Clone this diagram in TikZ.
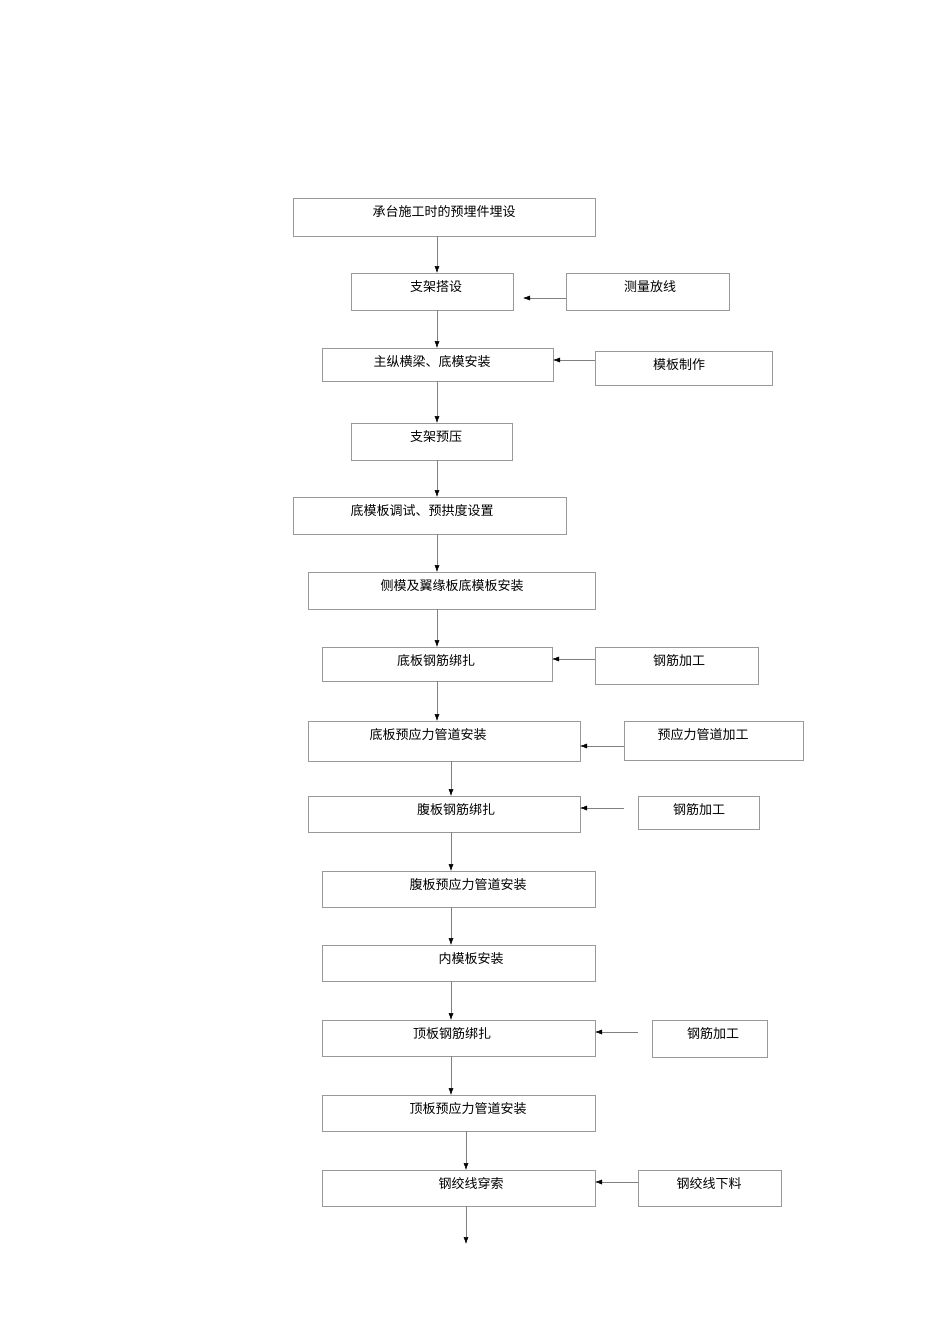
\documentclass[tikz,border=0pt]{standalone}
\usepackage{fontspec}
\setmainfont{Noto Sans CJK SC}
\usetikzlibrary{arrows.meta}
\begin{document}
\begin{tikzpicture}[x=1pt,y=-1pt,
  box/.style={draw=gray!80,line width=0.6pt,inner sep=0,outer sep=0,anchor=north west},
  lbl/.style={font=\fontsize{13}{15}\selectfont,inner sep=0},
  arr/.style={draw=gray,line width=0.5pt,-{Latex[length=7pt,width=5pt,black]}}]
\useasboundingbox (0,0) rectangle (950,1344);
\newcommand\bx[6]{\node[box,minimum width=#4-#2,minimum height=#5-#3] (#1) at (#2,#3) {};
  \node[lbl] (#1t) at (#6,#3+15) {\phantom{}};}
\newcommand\B[7]{\node[box,minimum width=#4-#2,minimum height=#5-#3] (#1) at (#2,#3) {};
  \node[lbl] (#1t) at (#6,#3+14) {#7};}
\B{b1}{293}{198}{595}{236}{444}{承台施工时的预埋件埋设}
\B{b2}{351}{273}{513}{310}{436}{支架搭设}
\B{s2}{566}{273}{729}{310}{650}{测量放线}
\B{b3}{322}{348}{553}{381}{432}{主纵横梁、底模安装}
\B{s3}{595}{351}{772}{385}{679}{模板制作}
\B{b4}{351}{423}{512}{460}{436}{支架预压}
\B{b5}{293}{497}{566}{534}{422}{底模板调试、预拱度设置}
\B{b6}{308}{572}{595}{609}{452}{侧模及翼缘板底模板安装}
\B{b7}{322}{647}{552}{681}{436}{底板钢筋绑扎}
\B{s7}{595}{647}{758}{684}{679}{钢筋加工}
\B{b8}{308}{721}{580}{761}{428}{底板预应力管道安装}
\B{s8}{624}{721}{803}{760}{703}{预应力管道加工}
\B{b9}{308}{796}{580}{832}{456}{腹板钢筋绑扎}
\B{s9}{638}{796}{759}{829}{699}{钢筋加工}
\B{b10}{322}{871}{595}{907}{468}{腹板预应力管道安装}
\B{b11}{322}{945}{595}{981}{471}{内模板安装}
\B{b12}{322}{1020}{595}{1056}{452}{顶板钢筋绑扎}
\B{s12}{652}{1020}{767}{1057}{713}{钢筋加工}
\B{b13}{322}{1095}{595}{1131}{468}{顶板预应力管道安装}
\B{b14}{322}{1170}{595}{1206}{471}{钢绞线穿索}
\B{s14}{638}{1170}{781}{1206}{709}{钢绞线下料}
\coordinate (end) at (466,1244);
% vertical
\draw[arr] (b1.south -| 437,0) -- (b2.north -| 437,0);
\draw[arr] (b2.south -| 437,0) -- (b3.north -| 437,0);
\draw[arr] (b3.south -| 437,0) -- (b4.north -| 437,0);
\draw[arr] (b4.south -| 437,0) -- (b5.north -| 437,0);
\draw[arr] (b5.south -| 437,0) -- (b6.north -| 437,0);
\draw[arr] (b6.south -| 437,0) -- (b7.north -| 437,0);
\draw[arr] (b7.south -| 437,0) -- (b8.north -| 437,0);
\draw[arr] (b8.south -| 451,0) -- (b9.north -| 451,0);
\draw[arr] (b9.south -| 451,0) -- (b10.north -| 451,0);
\draw[arr] (b10.south -| 451,0) -- (b11.north -| 451,0);
\draw[arr] (b11.south -| 451,0) -- (b12.north -| 451,0);
\draw[arr] (b12.south -| 451,0) -- (b13.north -| 451,0);
\draw[arr] (b13.south -| 466,0) -- (b14.north -| 466,0);
\draw[arr] (b14.south -| 466,0) -- (end);
% side
\draw[arr] (s2.west |- 0,298) -- ([xshift=10pt]b2.east |- 0,298);
\draw[arr] (s3.west |- 0,360) -- (b3.east |- 0,360);
\draw[arr] (s7.west |- 0,659) -- (b7.east |- 0,659);
\draw[arr] (s8.west |- 0,746) -- (b8.east |- 0,746);
\draw[arr] ([xshift=-14pt]s9.west |- 0,808) -- (b9.east |- 0,808);
\draw[arr] ([xshift=-14pt]s12.west |- 0,1032) -- (b12.east |- 0,1032);
\draw[arr] (s14.west |- 0,1182) -- (b14.east |- 0,1182);
\end{tikzpicture}
\end{document}
